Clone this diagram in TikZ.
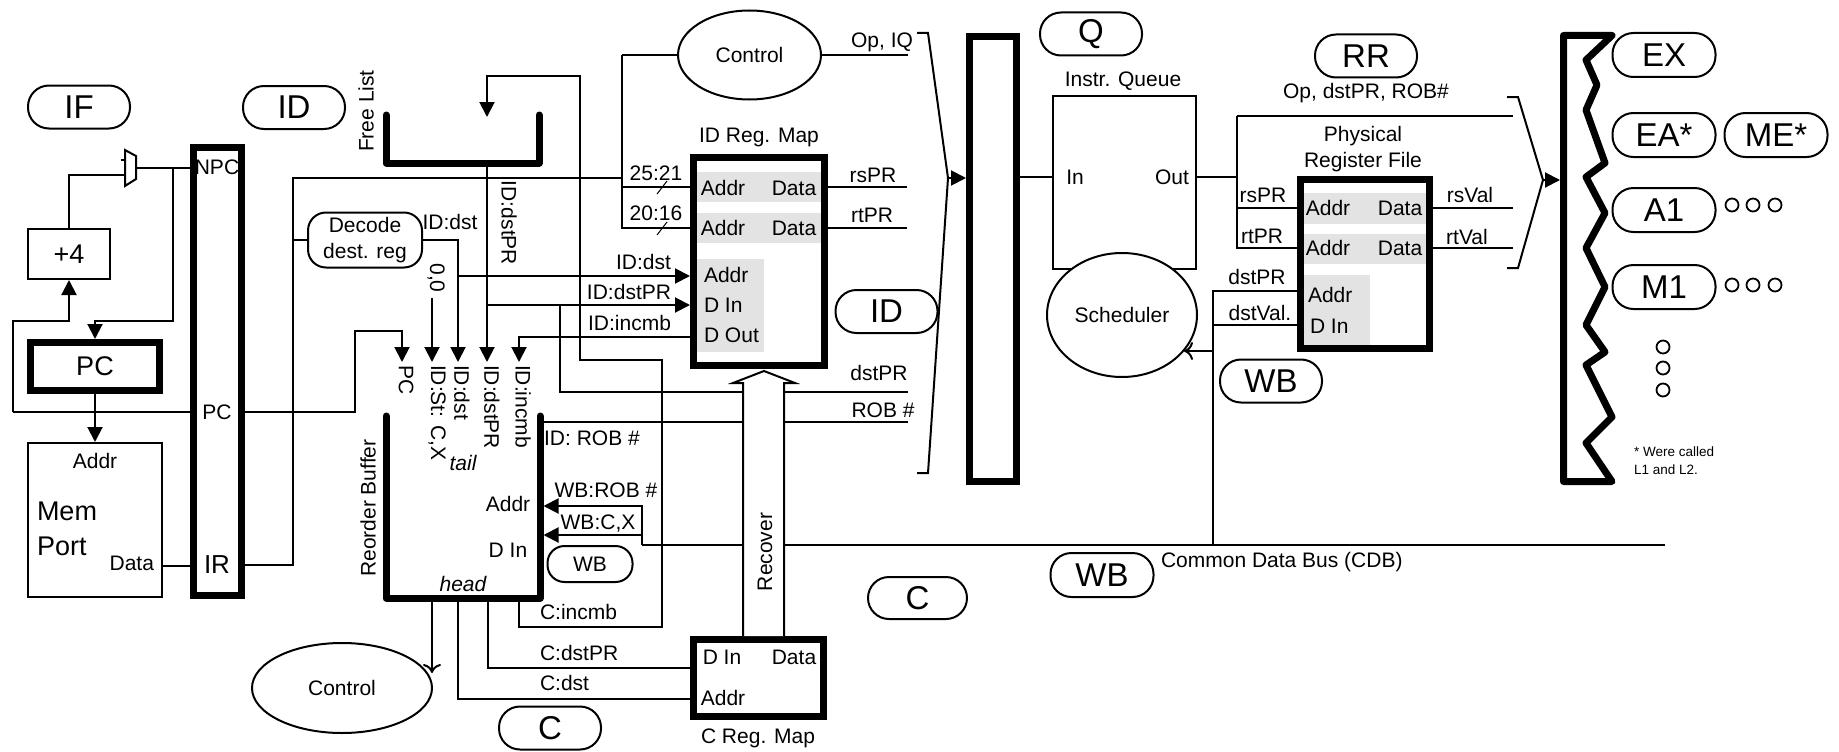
\documentclass[tikz,border=0pt]{standalone}
\usepackage{fontspec}
\setmainfont{Liberation Sans}
\usetikzlibrary{arrows.meta,shapes.geometric}
\begin{document}
\begin{tikzpicture}[x=1pt,y=-1pt,line width=2pt,
  txt/.style={font=\fontsize{21}{24}\selectfont, inner sep=0pt},
  bigtxt/.style={font=\fontsize{27}{30}\selectfont, inner sep=0pt},
  stage/.style={draw, line width=2pt, rounded corners=21pt, minimum width=102pt, minimum height=43pt, inner sep=0pt, font=\fontsize{33}{36}\selectfont},
  smallstage/.style={draw, line width=2pt, rounded corners=17pt, minimum width=85pt, minimum height=36pt, inner sep=0pt, font=\fontsize{21}{24}\selectfont},
  latch/.style={draw, line width=7pt, inner sep=0pt},
  box/.style={draw, line width=2pt, inner sep=0pt},
  oval/.style={draw, ellipse, line width=2pt, inner sep=0pt, font=\fontsize{21}{24}\selectfont, fill=white},
  heavy/.style={line width=7pt, line cap=round, line join=round},
  arr/.style={-{Triangle[length=15pt,width=15pt]}},
  oarr/.style={-{Computer Modern Rightarrow[length=9pt,width=18pt]}},
  graybar/.style={fill=black!11, draw=none},
  dot/.style={draw, circle, line width=1.8pt, minimum size=13pt, inner sep=0pt},
  note/.style={font=\fontsize{13.5}{16}\selectfont, inner sep=0pt, anchor=west},
]
\useasboundingbox (0,0) rectangle (1839,752);

% ---------------- stage labels ----------------
\node[stage] (sIF) at (79,107) {IF};
\node[stage] (sIDa) at (294,107.5) {ID};
\node[stage] (sQ) at (1091,34) {Q};
\node[stage] (sRR) at (1366,56) {RR};
\node[stage] (sIDb) at (886.5,311.5) {ID};
\node[stage] (sWBa) at (1271,381) {WB};
\node[stage, minimum width=103pt, minimum height=44pt] (sWBb) at (1102,575) {WB};
\node[stage, minimum width=99pt, minimum height=42pt] (sCa) at (917.5,598) {C};
\node[stage] (sCb) at (550,728) {C};
\node[stage, minimum width=103pt, minimum height=44pt] (sEX) at (1664,55) {EX};
\node[stage, minimum width=103pt, minimum height=44pt] (sEA) at (1664,135) {EA*};
\node[stage, minimum width=103pt, minimum height=44pt] (sME) at (1776,135) {ME*};
\node[stage, minimum width=103pt, minimum height=44pt] (sA1) at (1664,210) {A1};
\node[stage, minimum width=103pt, minimum height=44pt] (sM1) at (1664,287) {M1};
\node[smallstage] (sWBc) at (590,564) {WB};

% ---------------- IF stage ----------------
\node[latch, minimum width=48pt, minimum height=448pt] (ifid) at (217.5,371.5) {};
\node[txt] at (217,167) {NPC};
\node[txt] at (217,412) {PC};
\node[inner sep=0pt, font=\fontsize{26}{30}\selectfont] at (217,565) {IR};

\node[latch, minimum width=129pt, minimum height=48pt, bigtxt] (pc) at (95,366.5) {PC};
\node[box, minimum width=82pt, minimum height=50pt, bigtxt] (plus4) at (69,254) {+4};
\node[box, minimum width=134pt, minimum height=154pt] (mem) at (95,520) {};
\node[txt] at (95,461) {Addr};
\node[bigtxt, anchor=west] at (36,511) {Mem};
\node[bigtxt, anchor=west] at (36,546) {Port};
\node[txt, anchor=east] at (155,563) {Data};

\draw (125,150) -- (136,156) -- (136,179) -- (125,186) -- cycle;
\draw (121,160) -- (125,160);
\coordinate (mO) at (136,167.5);
\coordinate (mI) at (125,175);
\coordinate (jN) at (173,167.5);
\coordinate (pcL) at (13,412);
\coordinate (dY) at (162,566);
\draw (mO) -- (mO -| ifid.west);
\draw[arr] (jN) |- (95,321) -- (pc);
\draw (plus4.north) |- (mI);
\draw[arr] (pcL) |- (69,321) -- (plus4.south);
\draw (pcL) -- (pcL -| ifid.west);
\draw[arr] (pc) -- (mem);
\draw (dY) -- (dY -| ifid.west);

% ---------------- ID stage ----------------
\node[box, rounded corners=18pt, minimum width=114pt, minimum height=55pt, align=center, font=\fontsize{21}{26}\selectfont] (dec) at (365,240) {Decode\\dest. reg};
\draw[heavy] (386,115) -- (386,163) -- (539,163) -- (539,115);
\node[txt, rotate=90] at (366,111) {Free List};
\node[txt, rotate=-90] at (509,223) {ID:dstPR};
\node[txt] at (450,222) {ID:dst};
\node[txt, rotate=-90] at (436,278) {0,0};

% ID register map
\fill[black!11] (697,172) rectangle (821,202);
\fill[black!11] (697,213) rectangle (821,243);
\fill[black!11] (697,259) rectangle (764,352);
\node[latch, minimum width=131pt, minimum height=208pt] (idmap) at (759,261.5) {};
\node[txt] at (759,137) {ID Reg. Map};
\node[txt] at (723,188) {Addr};
\node[txt] at (794,188) {Data};
\node[txt] at (723,228) {Addr};
\node[txt] at (794,228) {Data};
\node[txt, anchor=west] at (703,275) {Addr};
\node[txt, anchor=west] at (703,305) {D In};
\node[txt, anchor=west] at (703,335) {D Out};

\node[oval, minimum width=143pt, minimum height=89pt] (ctlA) at (749.5,55) {Control};

% IR / control wiring
\coordinate (irA) at (293,565);
\coordinate (cT) at (622,55);
\coordinate (r25) at (622,187);
\coordinate (r20) at (622,228);
\draw (irA -| ifid.east) -- (irA) -- (293,178) -- (622,178);
\draw (cT) -- (ctlA);
\draw (cT) -- (r20) -- (r20 -| idmap.west);
\draw (r25) -- (r25 -| idmap.west);
\draw[line width=1pt] (657,194) -- (667,181);
\draw[line width=1pt] (657,235) -- (667,222);
\node[txt] at (656,173) {25:21};
\node[txt] at (656,213) {20:16};

\draw (293,240) -- (dec);
\coordinate (dD) at (458,276);
\coordinate (dP) at (487,305);
\coordinate (dI) at (519,337);
\draw[arr] (dec.east) -- (458,240) -- (458,362);
\draw[arr] (dD) -- (dD -| idmap.west);
\draw[arr] (487,163) -- (487,362);
\draw[arr] (dP) -- (dP -| idmap.west);
\draw[arr] (dI -| idmap.west) -- (dI) -- (519,362);
\draw[arr] (432,298) -- (432,362);
\draw[arr] (ifid.east |- pcL) -- (355,412) -- (355,331) -- (402,331) -- (402,362);
\node[txt, anchor=east] at (672,262) {ID:dst};
\node[txt, anchor=east] at (672,292) {ID:dstPR};
\node[txt, anchor=east] at (672,323) {ID:incmb};

% labels on ROB inputs
\node[txt, rotate=-90, anchor=west] at (406,364) {PC};
\node[txt, rotate=-90, anchor=west] at (437,364) {ID:St: C,X};
\node[txt, rotate=-90, anchor=west] at (462,364) {ID:dst};
\node[txt, rotate=-90, anchor=west] at (492,364) {ID:dstPR};
\node[txt, rotate=-90, anchor=west] at (523,364) {ID:incmb};

% Reorder buffer
\draw[heavy] (386,416) -- (386,598) -- (540,598) -- (540,416);
\node[txt, rotate=90] at (368,508) {Reorder Buffer};
\node[txt, font=\fontsize{21}{24}\itshape] at (463,463) {tail};
\node[txt, font=\fontsize{21}{24}\itshape] at (463,584) {head};
\node[txt] at (508,504) {Addr};
\node[txt] at (508,550) {D In};

% free list return (C:incmb)
\draw[arr] (519,598) -- (519,627) -- (662,627) -- (662,360) -- (580,360) -- (580,76) -- (487,76) -- (487,117);
\node[txt, anchor=west] at (539,612) {C:incmb};

% dstPR / ROB# to queue
\draw (560,305) -- (560,392) -- (908,392);
\draw (543,422) -- (908,422);
\node[txt] at (879,373) {dstPR};
\node[txt] at (883,410) {ROB \#};
\node[txt] at (592,438) {ID: ROB \#};

% WB into ROB
\draw[arr] (642,545) -- (642,506) -- (543.5,506);
\draw[arr] (642,535) -- (543.5,535);
\node[txt] at (606,490) {WB:ROB \#};
\node[txt] at (598,524) {WB:C,X};

% CDB
\draw (642,545) -- (1665,545);
\node[txt, anchor=west] at (1160,562) {Common Data Bus (CDB)};

% commit
\node[oval, minimum width=180pt, minimum height=90pt] (ctlB) at (342,688) {Control};
\draw[oarr] (432,598) -- (432,673);
\fill[black!0] (0,0) rectangle (0,0);
\node[latch, minimum width=130pt, minimum height=77pt] (cmap) at (758.5,678) {};
\node[txt] at (722,657) {D In};
\node[txt] at (794,657) {Data};
\node[txt] at (723,698) {Addr};
\node[txt] at (758,738) {C Reg. Map};
\coordinate (cP) at (488,668);
\coordinate (cD) at (458,699);
\draw (488,598) -- (cP) -- (cP -| cmap.west);
\draw (458,598) -- (cD) -- (cD -| cmap.west);
\node[txt, anchor=west] at (539,653) {C:dstPR};
\node[txt, anchor=west] at (539,683) {C:dst};

% Recover arrow
\draw[fill=white] (743,636) -- (743,383) -- (733,383) -- (764,371) -- (795,383) -- (784,383) -- (784,636);
\node[txt, rotate=90] at (765,552) {Recover};

% ID outputs
\coordinate (oOp) at (908,55);
\draw (ctlA.east) -- (oOp);
\draw (r25 -| idmap.east) -- (907,187);
\draw (r20 -| idmap.east) -- (907,228);
\node[txt] at (882,42) {Op, IQ};
\node[txt] at (873,175) {rsPR};
\node[txt] at (872,215) {rtPR};

% bracket 1 and ID/Q latch
\node[latch, minimum width=47pt, minimum height=445pt] (idq) at (993,259) {};
\coordinate (b1) at (948,178);
\draw (917,33) -- (928,33) -- (b1) -- (928,473) -- (917,473);
\draw[arr] (b1) -- (b1 -| idq.west);

% ---------------- Q stage ----------------
\node[box, minimum width=143pt, minimum height=173pt] (iq) at (1124.5,182.5) {};
\node[txt] at (1123,81) {Instr. Queue};
\node[txt] at (1075,177) {In};
\node[txt] at (1172,177) {Out};
\coordinate (qI) at (1053,177);
\draw (qI -| idq.east) -- (qI);
\node[oval, minimum width=150pt, minimum height=124pt] (sch) at (1122,315) {Scheduler};

% ---------------- RR stage ----------------
\fill[black!11] (1304,193) rectangle (1426,224);
\fill[black!11] (1304,234) rectangle (1426,264);
\fill[black!11] (1304,275) rectangle (1370,345);
\node[latch, minimum width=129pt, minimum height=169pt] (prf) at (1365,264) {};
\node[txt] at (1363,136) {Physical};
\node[txt] at (1363,162) {Register File};
\node[txt] at (1328,208) {Addr};
\node[txt] at (1400,208) {Data};
\node[txt] at (1328,248) {Addr};
\node[txt] at (1400,248) {Data};
\node[txt, anchor=west] at (1307,295) {Addr};
\node[txt, anchor=west] at (1309,326) {D In};

\coordinate (qO) at (1237,177);
\coordinate (rS) at (1237,208);
\coordinate (rT) at (1237,248);
\draw (iq.east |- qO) -- (qO);
\draw (1237,116) -- (rT) -- (rT -| prf.west);
\draw (1237,116) -- (1513,116);
\draw (rS) -- (rS -| prf.west);
\node[txt] at (1366,93) {Op, dstPR, ROB\#};
\node[txt] at (1263,195) {rsPR};
\node[txt] at (1262,236) {rtPR};
\draw (rS -| prf.east) -- (1513,208);
\draw (rT -| prf.east) -- (1513,248);
\node[txt] at (1470,195) {rsVal};
\node[txt] at (1467,237) {rtVal};

\coordinate (wP) at (1213,291);
\coordinate (wV) at (1213,325);
\coordinate (wS) at (1213,351);
\draw (1213,545) -- (wP) -- (wP -| prf.west);
\draw (wV) -- (wV -| prf.west);
\draw[oarr] (wS) -- (1184,351);
\node[txt] at (1257,277) {dstPR};
\node[txt] at (1260,313) {dstVal.};

% bracket 2 and EX latch
\coordinate (b2) at (1543,180);
\draw (1507,97) -- (1518,97) -- (b2) -- (1518,268) -- (1507,268);
\draw[heavy] (1563.5,481.5) -- (1563.5,35.5) -- (1612,35.5) -- (1586,60) -- (1597,85) -- (1586,110) -- (1605,163) -- (1586,177) -- (1605,213) -- (1586,248) -- (1605,287) -- (1586,325) -- (1605,352) -- (1586,365) -- (1612,417) -- (1586,443) -- (1612,481.5) -- cycle;
\draw[arr] (b2) -- (1560,180);

% dots and note
\node[dot] at (1732,205) {};
\node[dot] at (1753,205) {};
\node[dot] at (1775,205) {};
\node[dot] at (1732,285) {};
\node[dot] at (1753,285) {};
\node[dot] at (1775,285) {};
\node[dot] at (1663,347) {};
\node[dot] at (1663,368) {};
\node[dot] at (1663,390) {};
\node[note] at (1633,452) {* Were called};
\node[note] at (1633,470) {L1 and L2.};
\end{tikzpicture}
\end{document}
